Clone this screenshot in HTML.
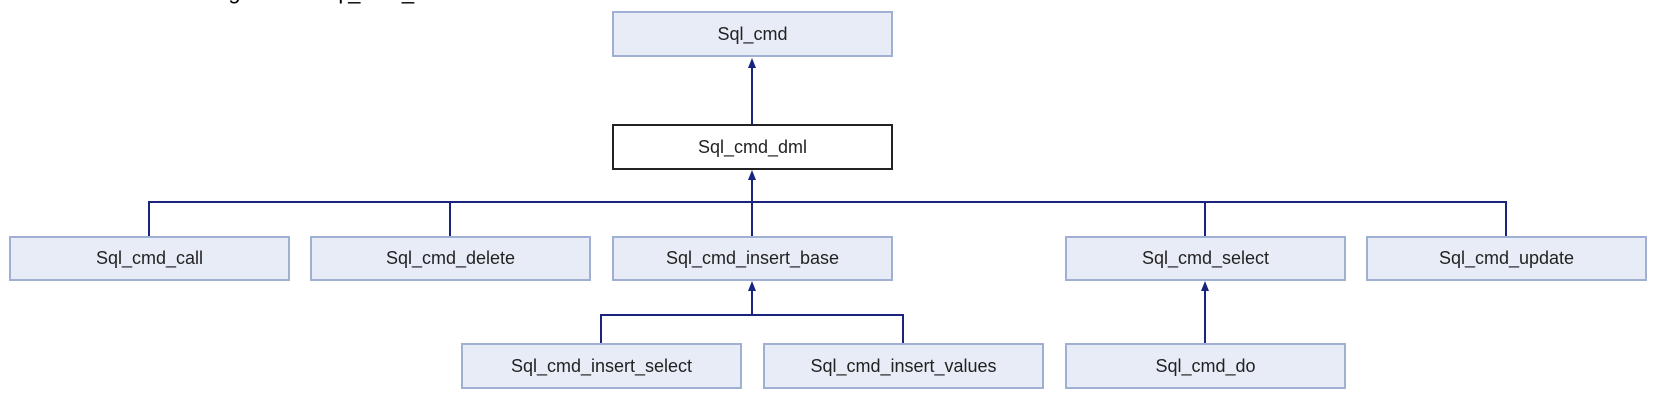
<!DOCTYPE html>
<html><head><meta charset="utf-8"><style>
body{margin:0;width:1678px;height:408px;background:#fff;overflow:hidden;position:relative;font-family:"Liberation Sans",Arial,sans-serif}
.b{position:absolute;box-sizing:border-box;background:#e8ecf7;border:2px solid #9fb0d4;display:flex;align-items:center;justify-content:center;font-size:18px;color:#222;}
.w{background:#fff;border:2px solid #222}
svg{position:absolute;left:0;top:0}
.t{position:absolute;left:84px;top:-21px;font-size:22px;color:#000;white-space:nowrap}
</style></head><body>
<div class="t">Inheritance diagram for Sql_cmd_dml:</div>
<svg width="1678" height="408">
<g stroke="#1a237e" stroke-width="2" fill="none">
<line x1="752" y1="64" x2="752" y2="124"/>
<line x1="752" y1="176" x2="752" y2="202"/>
<polyline points="149,236 149,202 1506,202 1506,236"/>
<line x1="450" y1="202" x2="450" y2="236"/>
<line x1="752" y1="202" x2="752" y2="236"/>
<line x1="1205" y1="202" x2="1205" y2="236"/>
<line x1="752" y1="288" x2="752" y2="315"/>
<polyline points="601,343 601,315 903,315 903,343"/>
<line x1="1205" y1="288" x2="1205" y2="343"/>
</g>
<g fill="#1a237e">
<polygon points="752,58 748,68 756,68"/>
<polygon points="752,170 748,180 756,180"/>
<polygon points="752,281 748,291 756,291"/>
<polygon points="1205,281 1201,291 1209,291"/>
</g>
</svg>
<div class="b" style="left:612px;top:11px;width:281px;height:46px">Sql_cmd</div>
<div class="b w" style="left:612px;top:124px;width:281px;height:46px">Sql_cmd_dml</div>
<div class="b" style="left:9px;top:236px;width:281px;height:45px">Sql_cmd_call</div>
<div class="b" style="left:310px;top:236px;width:281px;height:45px">Sql_cmd_delete</div>
<div class="b" style="left:612px;top:236px;width:281px;height:45px">Sql_cmd_insert_base</div>
<div class="b" style="left:1065px;top:236px;width:281px;height:45px">Sql_cmd_select</div>
<div class="b" style="left:1366px;top:236px;width:281px;height:45px">Sql_cmd_update</div>
<div class="b" style="left:461px;top:343px;width:281px;height:46px">Sql_cmd_insert_select</div>
<div class="b" style="left:763px;top:343px;width:281px;height:46px">Sql_cmd_insert_values</div>
<div class="b" style="left:1065px;top:343px;width:281px;height:46px">Sql_cmd_do</div>
</body></html>
